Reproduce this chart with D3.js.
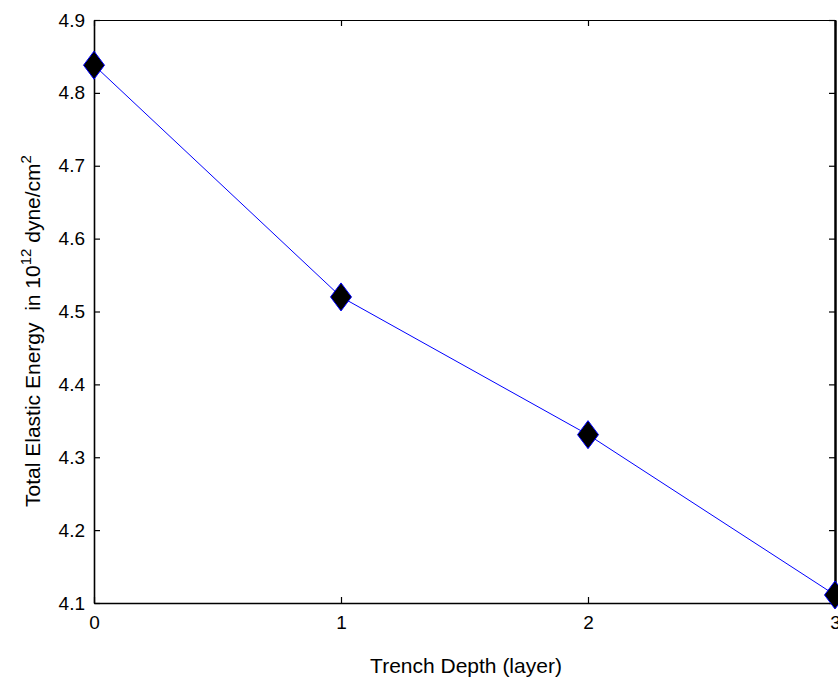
<!DOCTYPE html>
<html>
<head>
  <meta charset="utf-8">
  <style>
  body { margin: 0; background: #fff; }
  text { font-family: "Liberation Sans", Arial, Helvetica, sans-serif; fill: #000; }
  .axis path, .axis line { stroke: #000; }
  </style>
</head>
<body>
<svg width="838" height="679"></svg>
<script src="https://d3js.org/d3.v7.min.js"></script>
<script>

// trench depth (layer) vs total elastic energy
var depth = [0, 1, 2, 3];
var energy = [4.838, 4.52, 4.331, 4.111];
var xTicks = [0, 1, 2, 3];
var yTicks = [4.1, 4.2, 4.3, 4.4, 4.5, 4.6, 4.7, 4.8, 4.9];

var svg = d3.select("svg");
var mLeft = 94, mRight = 835, mTop = 20, mBottom = 603;

var x = d3.scaleLinear().domain([0, 3]).range([mLeft, mRight]);
var y = d3.scaleLinear().domain([4.1, 4.9]).range([mBottom, mTop]);

// ticks point inward, mirrored on all four sides (matlab box)
svg.append("g").attr("class", "axis")
    .attr("transform", "translate(0," + mBottom + ")")
    .call(d3.axisBottom(x).tickValues(xTicks).tickFormat(d3.format("d"))
      .tickSizeInner(-6).tickSizeOuter(0).tickPadding(13))
    .call(g => g.select(".domain").attr("stroke-width", 1.6));

svg.append("g").attr("class", "axis")
    .attr("transform", "translate(0," + mTop + ")")
    .call(d3.axisTop(x).tickValues(xTicks).tickFormat("")
      .tickSizeInner(-6).tickSizeOuter(0))
    .call(g => g.select(".domain").attr("stroke-width", 1.2));

svg.append("g").attr("class", "axis")
    .attr("transform", "translate(" + mLeft + ",0)")
    .call(d3.axisLeft(y).tickValues(yTicks).tickFormat(d3.format(".1f"))
      .tickSizeInner(-6).tickSizeOuter(0).tickPadding(9))
    .call(g => g.select(".domain").attr("stroke-width", 1.6));

svg.append("g").attr("class", "axis")
    .attr("transform", "translate(" + mRight + ",0)")
    .call(d3.axisRight(y).tickValues(yTicks).tickFormat("")
      .tickSizeInner(-6).tickSizeOuter(0))
    .call(g => g.select(".domain").attr("stroke-width", 2.5));

svg.selectAll(".axis text").style("font-size", "19px");
svg.selectAll(".axis .tick line").attr("stroke-width", 1.2);

var pts = depth.map(function(d, i) { return [d, energy[i]]; });

svg.append("path")
    .datum(pts)
    .attr("fill", "none")
    .attr("stroke", "#0000ff")
    .attr("stroke-width", 1)
    .attr("d", d3.line().x(function(d) { return x(d[0]); }).y(function(d) { return y(d[1]); }));

svg.selectAll("path.marker")
    .data(pts)
  .enter().append("path")
    .attr("class", "marker")
    .attr("d", "M0,-14L10.5,0L0,14L-10.5,0Z")
    .attr("transform", function(d) { return "translate(" + x(d[0]) + "," + y(d[1]) + ")"; })
    .attr("fill", "#000")
    .attr("stroke", "#0000ff")
    .attr("stroke-width", 1);

svg.append("text")
    .attr("x", 466)
    .attr("y", 673)
    .attr("text-anchor", "middle")
    .style("font-size", "21px")
    .text("Trench Depth (layer)");

var yl = svg.append("text")
    .attr("transform", "translate(40,331) rotate(-90)")
    .attr("text-anchor", "middle")
    .style("font-size", "21px")
    .style("white-space", "pre");
yl.append("tspan").text("Total Elastic Energy  in 10");
yl.append("tspan").attr("dy", -9).style("font-size", "15px").text("12");
yl.append("tspan").attr("dy", 9).text(" dyne/cm");
yl.append("tspan").attr("dy", -9).style("font-size", "15px").text("2");

</script>
</body>
</html>
